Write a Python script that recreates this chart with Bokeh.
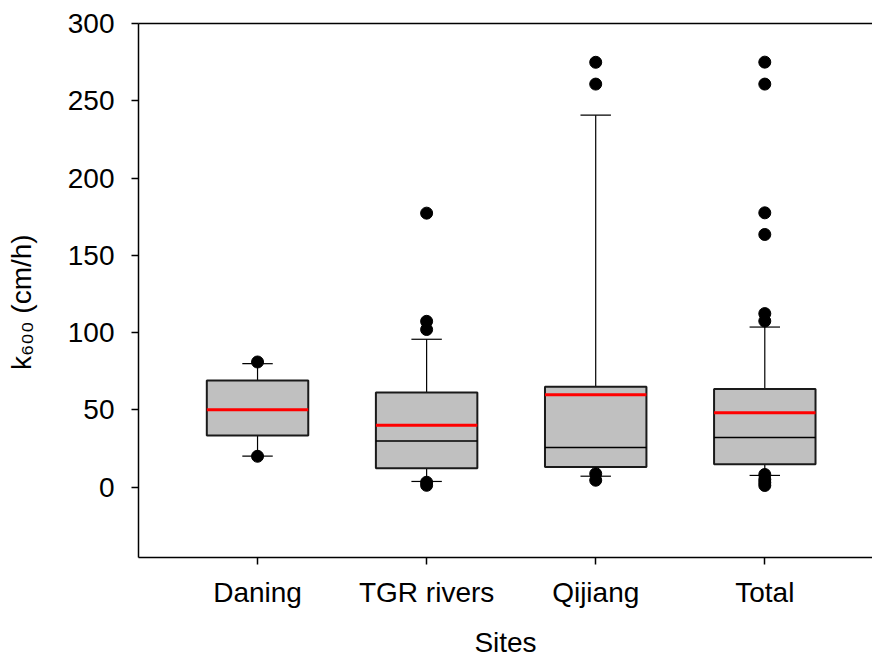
from bokeh.plotting import figure
from bokeh.models import ColumnDataSource, Range1d, FixedTicker, LinearAxis
from bokeh.embed import file_html
from bokeh.resources import INLINE

# ---- data ----
categories = ["Daning", "TGR rivers", "Qijiang", "Total"]
q1 = [33.5, 12.3, 13.0, 14.9]
q3 = [69.1, 61.3, 65.0, 63.5]
median = [50.1, 29.8, 25.7, 32.2]
mean = [50.1, 40.0, 59.8, 48.2]
whisker_low = [20.1, 3.7, 7.1, 7.6]
whisker_high = [79.9, 95.7, 240.7, 103.6]
outliers_daning = [81.0, 20.0]
outliers_tgr = [177.3, 107.3, 102.0, 3.2, 1.2]
outliers_qijiang = [274.9, 260.8, 8.7, 4.5]
outliers_total = [275.0, 260.8, 177.5, 163.5, 112.3, 107.5, 8.2, 5.0, 3.0, 1.1]
y_ticks = [0, 50, 100, 150, 200, 250, 300]

# ---- layout constants ----
BOX_W = 0.6
CAP_W = 0.18
FONT = "Liberation Sans"
FS = "28px"

x_pos = [i + 1 for i in range(len(categories))]
src = ColumnDataSource(dict(
    x=x_pos, q1=q1, q3=q3, med=median, mean=mean, lo=whisker_low, hi=whisker_high,
    left=[x - BOX_W / 2 for x in x_pos], right=[x + BOX_W / 2 for x in x_pos],
    cl=[x - CAP_W / 2 for x in x_pos], cr=[x + CAP_W / 2 for x in x_pos],
))

all_out = [outliers_daning, outliers_tgr, outliers_qijiang, outliers_total]
out_x, out_y = [], []
for xp, vals in zip(x_pos, all_out):
    for v in vals:
        out_x.append(xp)
        out_y.append(v)
out_src = ColumnDataSource(dict(x=out_x, y=out_y))

p = figure(width=872, height=662, output_backend="svg", toolbar_location=None,
           x_range=Range1d(0.296, 4.637), y_range=Range1d(-45.5, 300),
           min_border_left=138, min_border_right=0, min_border_top=23, min_border_bottom=105)
p.outline_line_color = None
p.xgrid.grid_line_color = None
p.ygrid.grid_line_color = None
p.background_fill_color = "white"
p.border_fill_color = "white"

# whiskers
p.segment(x0="x", y0="q3", x1="x", y1="hi", source=src, line_color="black", line_width=1.2)
p.segment(x0="x", y0="q1", x1="x", y1="lo", source=src, line_color="black", line_width=1.2)
p.segment(x0="cl", y0="hi", x1="cr", y1="hi", source=src, line_color="black", line_width=1.2)
p.segment(x0="cl", y0="lo", x1="cr", y1="lo", source=src, line_color="black", line_width=1.2)
# boxes
p.quad(left="left", right="right", bottom="q1", top="q3", source=src,
       fill_color="#c0c0c0", line_color="#1a1a1a", line_width=2)
# median and mean
p.segment(x0="left", y0="med", x1="right", y1="med", source=src, line_color="black", line_width=1.5)
p.segment(x0="left", y0="mean", x1="right", y1="mean", source=src, line_color="#ff0000", line_width=3)
# outliers
p.scatter(x="x", y="y", source=out_src, size=12, fill_color="black", line_color="black")

# axes
p.xaxis.ticker = FixedTicker(ticks=x_pos)
p.xaxis.major_label_overrides = {xp: c for xp, c in zip(x_pos, categories)}
p.yaxis.ticker = FixedTicker(ticks=y_ticks)
for ax in (p.xaxis[0], p.yaxis[0]):
    ax.axis_line_width = 1.5
    ax.axis_line_color = "black"
    ax.major_tick_line_width = 1.5
    ax.major_tick_line_color = "black"
    ax.major_tick_out = 7
    ax.major_tick_in = 0
    ax.minor_tick_line_color = None
    ax.major_label_text_font = FONT
    ax.major_label_text_font_size = FS
    ax.major_label_text_color = "black"
    ax.axis_label_text_font = FONT
    ax.axis_label_text_font_size = FS
    ax.axis_label_text_font_style = "normal"
    ax.axis_label_text_color = "black"
p.xaxis.major_label_standoff = 12
p.yaxis.major_label_standoff = 17
p.xaxis.axis_label = "Sites"
p.xaxis.axis_label_standoff = 16
p.yaxis.axis_label = "k\u2086\u2080\u2080 (cm/h)\u00a0\u00a0\u00a0"
p.yaxis.axis_label_standoff = 28

top_axis = LinearAxis(ticker=FixedTicker(ticks=[]), major_label_text_font_size="0px",
                      major_tick_out=0, major_tick_in=0, minor_tick_out=0, minor_tick_in=0,
                      axis_line_width=1.5, axis_line_color="black")
p.add_layout(top_axis, "above")

open("out.html", "w").write(file_html(p, INLINE))
